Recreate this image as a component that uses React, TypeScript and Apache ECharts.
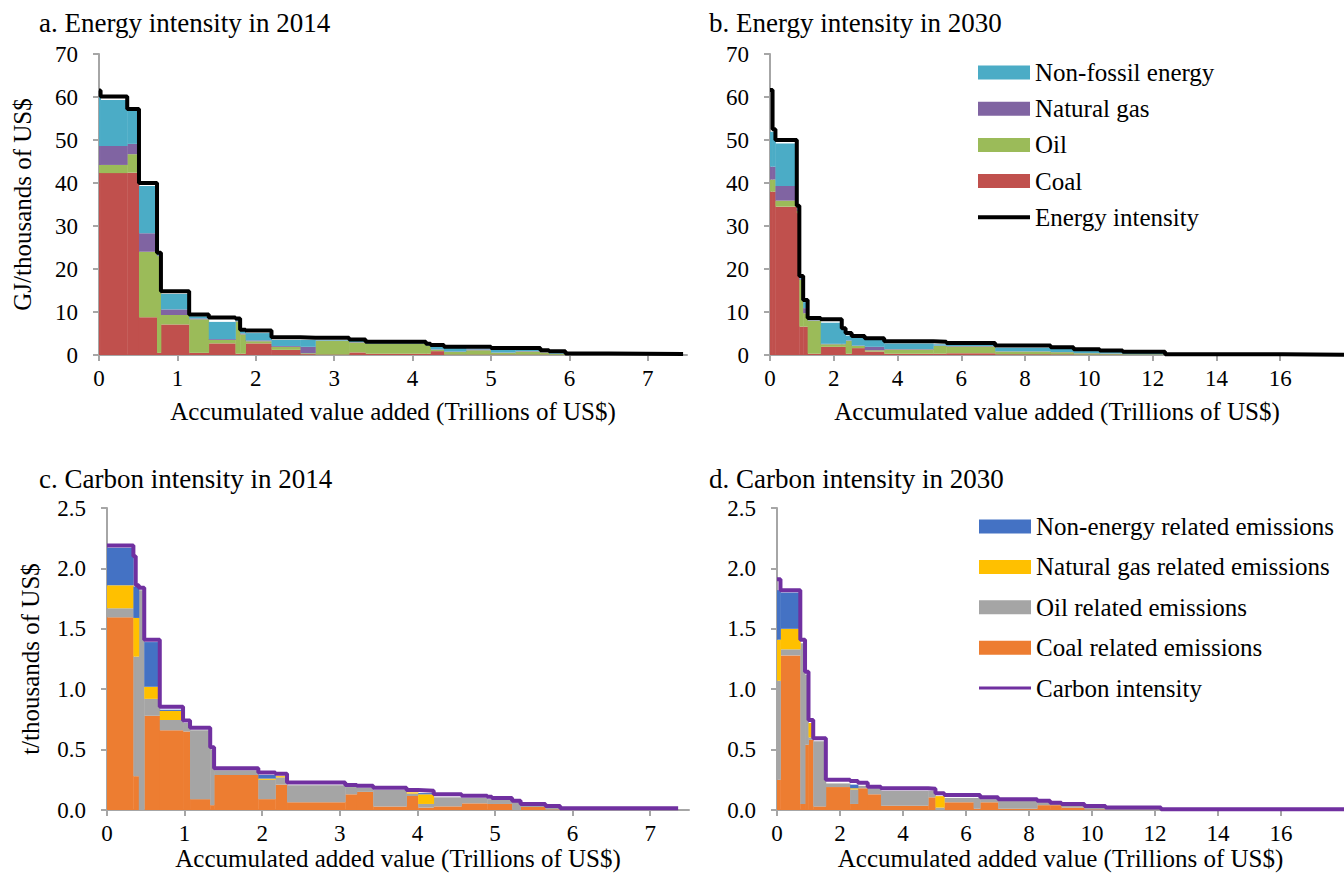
import React, { useEffect, useRef } from "react";
import * as echarts from "echarts";

const FONT = "'Liberation Serif', 'Times New Roman', serif";

// ---------- Panel a: Energy intensity in 2014 ----------
const aX = [0, 0.02, 0.36, 0.51, 0.74, 0.79, 1.15, 1.4, 1.74, 1.8, 1.87, 2.2, 2.57, 2.76, 3.19, 3.4, 4.17, 4.23, 4.4, 4.68, 5.0, 5.31, 5.63, 5.74, 5.95, 6.5, 7.45];
const aCoal = [42.3, 42.3, 42.4, 8.8, 0.5, 7.1, 0.5, 2.7, 0.3, 0.3, 2.7, 1.2, 0.2, 0.1, 0.6, 0.3, 0.3, 0.9, 0.1, 0.1, 0.1, 0.1, 0.1, 0.05, 0.02, 0.02];
const aOil = [1.9, 1.9, 4.3, 15.2, 22.5, 2.2, 7.8, 0.8, 7.5, 4.5, 0.5, 0.7, 0.2, 3.2, 2.3, 2.3, 1.8, 0.3, 0.6, 1.0, 0.4, 0.7, 0.5, 0.2, 0.1, 0.05];
const aGas = [4.4, 4.4, 2.4, 4.3, 0.2, 1.3, 0.2, 0.2, 0.1, 0.2, 0.2, 0.2, 1.5, 0.05, 0.1, 0.1, 0.1, 0.1, 0.1, 0.2, 0.1, 0.1, 0.1, 0.05, 0.02, 0.02];
const aNonFossil = [12.4, 10.7, 7.7, 11.0, 0.3, 3.6, 0.5, 4.0, 0.3, 0.6, 1.7, 1.4, 1.6, 0.15, 0.3, 0.2, 0.3, 0.8, 0.9, 0.2, 0.8, 0.4, 0.3, 0.5, 0.16, 0.1];
const aIntensity = [61.5, 60.1, 57.2, 40.0, 23.8, 14.8, 9.4, 8.7, 8.5, 5.9, 5.7, 4.1, 4.0, 4.0, 3.6, 3.1, 2.6, 2.3, 1.9, 1.9, 1.6, 1.6, 1.1, 0.9, 0.35, 0.25];

// ---------- Panel b: Energy intensity in 2030 ----------
const bX = [0, 0.08, 0.17, 0.84, 0.92, 1.04, 1.18, 1.59, 2.25, 2.37, 2.56, 2.97, 3.58, 5.12, 5.53, 7.06, 8.8, 9.52, 10.34, 11.06, 12.39, 16.07, 18];
const bCoal = [38.0, 38.0, 34.5, 33.0, 6.6, 6.6, 0.3, 1.9, 1.9, 0.3, 1.6, 0.8, 0.3, 0.3, 0.4, 0.2, 0.15, 0.1, 0.1, 0.05, 0.02, 0.01];
const bOil = [2.8, 2.8, 1.4, 0.5, 10.9, 3.1, 7.7, 0.6, 0.6, 3.0, 0.5, 0.3, 1.0, 1.8, 1.6, 0.6, 0.5, 0.3, 0.2, 0.1, 0.03, 0.01];
const bGas = [3.0, 3.0, 3.4, 0.3, 0.2, 1.2, 0.1, 0.1, 0.1, 0.1, 0.1, 0.8, 0.1, 0.1, 0.1, 0.1, 0.05, 0.05, 0.05, 0.05, 0.01, 0];
const bNonFossil = [8.1, 8.1, 9.9, 0.5, 0.3, 1.4, 0.1, 4.9, 3.2, 1.1, 1.9, 1.6, 1.3, 0.3, 0.3, 0.8, 0.7, 0.55, 0.35, 0.3, 0.04, 0.02];
const bIntensity = [61.6, 52.5, 50.0, 34.7, 18.4, 12.8, 8.6, 8.3, 6.2, 5.1, 4.4, 3.9, 3.2, 3.1, 2.8, 2.2, 1.8, 1.35, 1.05, 0.75, 0.2, 0.08];

// ---------- Panel c: Carbon intensity in 2014 ----------
const cX = [0, 0.34, 0.37, 0.41, 0.48, 0.68, 0.98, 1.07, 1.33, 1.38, 1.95, 2.17, 2.32, 3.07, 3.22, 3.43, 3.86, 4.01, 4.21, 4.57, 4.9, 4.96, 5.22, 5.33, 5.65, 5.84, 7.36];
const cCoal = [1.595, 0.28, 0.28, 0, 0.78, 0.66, 0.65, 0.09, 0.04, 0.29, 0.09, 0.21, 0.065, 0.13, 0.15, 0.03, 0.116, 0.02, 0.03, 0.055, 0.05, 0.05, 0, 0.025, 0.005, 0.003];
const cOil = [0.075, 0.99, 0.99, 1.82, 0.14, 0.085, 0.07, 0.57, 0.46, 0.04, 0.16, 0.06, 0.14, 0.06, 0.035, 0.135, 0.02, 0.03, 0.075, 0.045, 0.04, 0.035, 0.07, 0.015, 0.02, 0.005];
const cGas = [0.19, 0.32, 0.32, 0, 0.1, 0.075, 0, 0, 0, 0, 0.01, 0.01, 0, 0, 0, 0, 0.01, 0.08, 0, 0, 0, 0, 0, 0, 0, 0];
const cNonEnergy = [0.31, 0.26, 0.26, 0, 0.37, 0.01, 0, 0, 0, 0, 0.03, 0, 0, 0, 0, 0, 0, 0.01, 0, 0, 0, 0, 0, 0, 0, 0];
const cIntensity = [2.19, 2.1, 1.86, 1.84, 1.41, 0.855, 0.74, 0.68, 0.52, 0.345, 0.31, 0.3, 0.227, 0.207, 0.2, 0.185, 0.165, 0.16, 0.13, 0.118, 0.11, 0.1, 0.077, 0.05, 0.033, 0.014];

// ---------- Panel d: Carbon intensity in 2030 ----------
const dX = [0, 0.11, 0.74, 0.89, 1.0, 1.15, 1.55, 2.32, 2.57, 2.88, 3.3, 4.8, 5.03, 5.31, 6.24, 6.45, 7.02, 8.26, 8.67, 9.03, 9.76, 10.43, 12.19, 18];
const dCoal = [0.25, 1.28, 0.05, 0.54, 0.58, 0.03, 0.19, 0.05, 0.18, 0.13, 0.035, 0.105, 0, 0.064, 0.01, 0.064, 0.01, 0.04, 0.04, 0.02, 0.005, 0.003, 0.001];
const dOil = [0.82, 0.05, 1.33, 0.58, 0.02, 0.54, 0.03, 0.12, 0.02, 0.05, 0.125, 0.055, 0.02, 0.036, 0.09, 0.026, 0.065, 0.025, 0.01, 0.02, 0.02, 0.009, 0.001];
const dGas = [0.34, 0.17, 0, 0, 0.12, 0, 0, 0.01, 0, 0, 0, 0, 0.095, 0, 0, 0, 0, 0, 0, 0, 0, 0, 0];
const dNonEnergy = [0.41, 0.3, 0, 0, 0, 0, 0, 0.03, 0, 0, 0, 0, 0, 0, 0, 0, 0, 0, 0, 0, 0, 0, 0];
const dIntensity = [1.91, 1.82, 1.41, 1.145, 0.745, 0.593, 0.25, 0.24, 0.226, 0.193, 0.18, 0.175, 0.138, 0.124, 0.124, 0.105, 0.09, 0.077, 0.06, 0.05, 0.033, 0.02, 0.006];

// ---------- labels ----------
const titles = ["a. Energy intensity in 2014", "b. Energy intensity in 2030", "c. Carbon intensity in 2014", "d. Carbon intensity in 2030"];
const energyNames = ["Coal", "Oil", "Natural gas", "Non-fossil energy"];
const carbonNames = ["Coal related emissions", "Oil related emissions", "Natural gas related emissions", "Non-energy related emissions"];
const energyColors = ["#C0504D", "#9BBB59", "#8064A2", "#4BACC6"];
const carbonColors = ["#ED7D31", "#A5A5A5", "#FFC000", "#4472C4"];
const ticksA = [0, 1, 2, 3, 4, 5, 6, 7];
const ticksB = [0, 2, 4, 6, 8, 10, 12, 14, 16];

function stackSeries(gi: number, xs: number[], layers: number[][], names: string[], colors: string[]) {
  const base = xs.slice(0, -1).map(() => 0);
  return layers.map((vals, li) => {
    const data = vals.map((v, i) => {
      const b = base[i];
      base[i] = b + v;
      return [xs[i], xs[i + 1], b, b + v];
    });
    const color = colors[li];
    return {
      type: "custom",
      name: names[li],
      xAxisIndex: gi,
      yAxisIndex: gi,
      clip: true,
      encode: { x: [0, 1], y: [2, 3] },
      itemStyle: { color },
      data,
      renderItem: (params: any, api: any) => {
        const p0 = api.coord([api.value(0), api.value(3)]);
        const p1 = api.coord([api.value(1), api.value(2)]);
        return {
          type: "rect",
          shape: { x: p0[0], y: p0[1], width: p1[0] - p0[0] + 0.4, height: p1[1] - p0[1] },
          style: { fill: color },
        };
      },
    };
  });
}

function lineSeries(gi: number, xs: number[], vals: number[], name: string, color: string) {
  const data: number[][] = [];
  vals.forEach((v, i) => {
    data.push([xs[i], v]);
    data.push([xs[i + 1], v]);
  });
  return {
    type: "line",
    name,
    xAxisIndex: gi,
    yAxisIndex: gi,
    symbol: "none",
    showSymbol: false,
    lineStyle: { color, width: 4 },
    itemStyle: { color },
    z: 5,
    data,
  };
}

const axisLineStyle = { color: "#A6A6A6", width: 2 };

function xAxis(gi: number, max: number, interval: number, ticks: number[], name: string, nameGap: number) {
  return {
    type: "value",
    gridIndex: gi,
    min: 0,
    max,
    interval,
    name,
    nameLocation: "middle",
    nameGap,
    nameTextStyle: { fontSize: 25, color: "#000", fontFamily: FONT },
    axisLine: { show: true, onZero: false, lineStyle: axisLineStyle },
    axisTick: { show: true, length: 6, lineStyle: axisLineStyle, customValues: ticks },
    axisLabel: { fontSize: 23, color: "#000", fontFamily: FONT, margin: 12, customValues: ticks },
    splitLine: { show: false },
  };
}

function yAxis(gi: number, max: number, interval: number, name: string, decimals: number) {
  return {
    type: "value",
    gridIndex: gi,
    min: 0,
    max,
    interval,
    name,
    nameLocation: "middle",
    nameGap: 64,
    nameTextStyle: { fontSize: 25, color: "#000", fontFamily: FONT },
    axisLine: { show: true, lineStyle: axisLineStyle },
    axisTick: { show: true, length: 6, lineStyle: axisLineStyle },
    axisLabel: {
      fontSize: 23,
      color: "#000",
      fontFamily: FONT,
      margin: 21,
      formatter: (v: number) => v.toFixed(decimals),
    },
    splitLine: { show: false },
  };
}

// thin horizontal bar icons for the intensity lines (bounding box kept at 52x14)
const lineIconThick = "path://M0,0L0.01,0L0.01,0.01L0,0.01Z M0,5L52,5L52,9L0,9Z M0,13.99L0.01,13.99L0.01,14L0,14Z";
const lineIconThin = "path://M0,0L0.01,0L0.01,0.01L0,0.01Z M0,5.5L52,5.5L52,8.5L0,8.5Z M0,13.99L0.01,13.99L0.01,14L0,14Z";

export default function App() {
  const ref = useRef<HTMLDivElement>(null);
  useEffect(() => {
    if (!ref.current) return;
    const chart = echarts.init(ref.current, null, { renderer: "svg" });
    const titleStyle = { fontSize: 27, fontWeight: "normal", color: "#000", fontFamily: FONT };
    const legendText = { fontSize: 25, color: "#000", fontFamily: FONT };
    const option: any = {
      animation: false,
      backgroundColor: "#fff",
      textStyle: { fontFamily: FONT },
      title: [
        { text: titles[0], left: 34, top: 4, textStyle: titleStyle },
        { text: titles[1], left: 704, top: 4, textStyle: titleStyle },
        { text: titles[2], left: 34, top: 460, textStyle: titleStyle },
        { text: titles[3], left: 704, top: 460, textStyle: titleStyle },
      ],
      legend: [
        {
          orient: "vertical",
          left: 973,
          top: 55,
          itemWidth: 52,
          itemHeight: 14,
          itemGap: 11.2,
          textStyle: legendText,
          data: [
            { name: "Non-fossil energy", icon: "rect" },
            { name: "Natural gas", icon: "rect" },
            { name: "Oil", icon: "rect" },
            { name: "Coal", icon: "rect" },
            { name: "Energy intensity", icon: lineIconThick },
          ],
        },
        {
          orient: "vertical",
          left: 974,
          top: 509,
          itemWidth: 52,
          itemHeight: 14,
          itemGap: 15.4,
          textStyle: legendText,
          data: [
            { name: "Non-energy related emissions", icon: "rect" },
            { name: "Natural gas related emissions", icon: "rect" },
            { name: "Oil related emissions", icon: "rect" },
            { name: "Coal related emissions", icon: "rect" },
            { name: "Carbon intensity", icon: lineIconThin },
          ],
        },
      ],
      grid: [
        { left: 99, top: 54, width: 588, height: 301 },
        { left: 770, top: 54, width: 586, height: 301 },
        { left: 107, top: 508, width: 582, height: 302 },
        { left: 777, top: 508, width: 580.5, height: 302 },
      ],
      xAxis: [
        xAxis(0, 7.5, 1, ticksA, "Accumulated value added (Trillions of US$)", 44),
        xAxis(1, 18, 2, ticksB, "Accumulated value added (Trillions of US$)", 44),
        xAxis(2, 7.5, 1, ticksA, "Accumulated added value (Trillions of US$)", 35),
        xAxis(3, 18, 2, ticksB, "Accumulated added value (Trillions of US$)", 35),
      ],
      yAxis: [
        yAxis(0, 70, 10, "GJ/thousands of US$", 0),
        yAxis(1, 70, 10, "", 0),
        yAxis(2, 2.5, 0.5, "t/thousands of US$", 1),
        yAxis(3, 2.5, 0.5, "", 1),
      ],
      series: [
        ...stackSeries(0, aX, [aCoal, aOil, aGas, aNonFossil], energyNames, energyColors),
        lineSeries(0, aX, aIntensity, "Energy intensity", "#000000"),
        ...stackSeries(1, bX, [bCoal, bOil, bGas, bNonFossil], energyNames, energyColors),
        lineSeries(1, bX, bIntensity, "Energy intensity", "#000000"),
        ...stackSeries(2, cX, [cCoal, cOil, cGas, cNonEnergy], carbonNames, carbonColors),
        lineSeries(2, cX, cIntensity, "Carbon intensity", "#7030A0"),
        ...stackSeries(3, dX, [dCoal, dOil, dGas, dNonEnergy], carbonNames, carbonColors),
        lineSeries(3, dX, dIntensity, "Carbon intensity", "#7030A0"),
      ],
    };
    chart.setOption(option);
    return () => chart.dispose();
  }, []);
  return (
    <div
      ref={ref}
      style={{ position: "fixed", left: 0, top: 0, width: 1344, height: 894, background: "#fff" }}
    />
  );
}
